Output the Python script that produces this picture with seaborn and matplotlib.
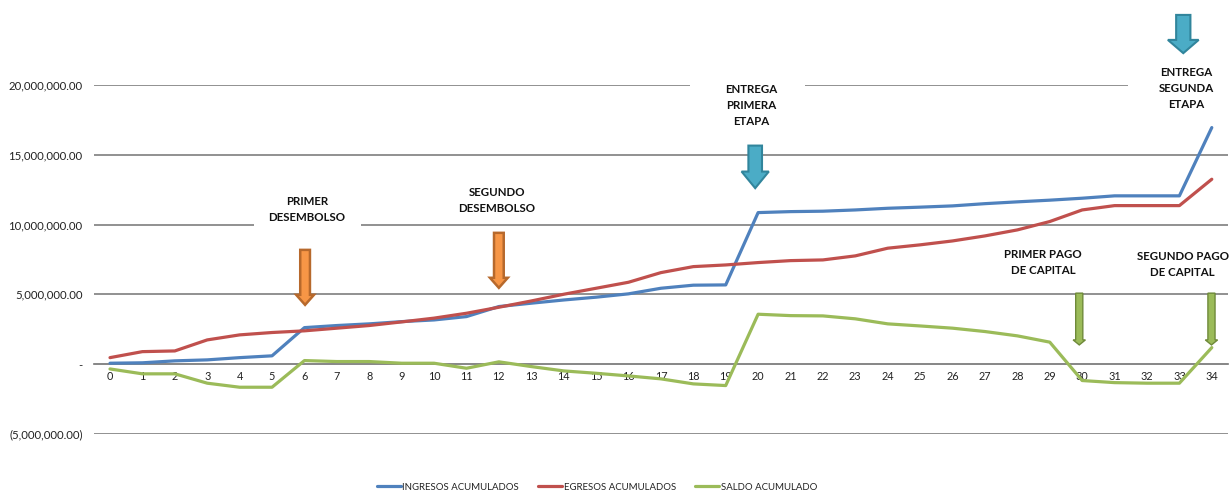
import matplotlib
matplotlib.use("Agg")
import matplotlib.pyplot as plt
from matplotlib.patches import FancyArrow, Rectangle
from matplotlib.lines import Line2D
from matplotlib.ticker import FuncFormatter
import numpy as np
import pandas as pd
import seaborn as sns

# Monthly periods
periodos = list(range(35))

ingresos_acumulados = [
    0.07, 0.10, 0.24, 0.31, 0.47, 0.60, 2.62, 2.77, 2.89, 3.05,
    3.17, 3.41, 4.13, 4.37, 4.60, 4.80, 5.04, 5.44, 5.66, 5.68,
    10.86, 10.93, 10.96, 11.05, 11.17, 11.25, 11.34, 11.50, 11.63, 11.75,
    11.89, 12.06, 12.06, 12.06, 16.95,
]
egresos_acumulados = [
    0.47, 0.90, 0.95, 1.74, 2.10, 2.27, 2.39, 2.58, 2.77, 3.03,
    3.30, 3.65, 4.08, 4.53, 5.01, 5.44, 5.87, 6.56, 6.99, 7.11,
    7.28, 7.42, 7.47, 7.76, 8.31, 8.55, 8.83, 9.19, 9.62, 10.22,
    11.05, 11.36, 11.36, 11.36, 13.25,
]
saldo_acumulado = [
    -0.34, -0.69, -0.69, -1.36, -1.65, -1.65, 0.26, 0.19, 0.19, 0.07,
    0.07, -0.29, 0.17, -0.17, -0.48, -0.65, -0.84, -1.05, -1.41, -1.53,
    3.58, 3.48, 3.46, 3.25, 2.89, 2.74, 2.58, 2.34, 2.03, 1.58,
    -1.17, -1.32, -1.36, -1.36, 1.19,
]

series_nombres = ["INGRESOS ACUMULADOS", "EGRESOS ACUMULADOS", "SALDO ACUMULADO"]
series_colores = ["#4F81BD", "#C0504D", "#9BBB59"]

y_ticks = [-5_000_000, 0, 5_000_000, 10_000_000, 15_000_000, 20_000_000]

df = pd.DataFrame({
    "periodo": periodos * 3,
    "valor": np.array(ingresos_acumulados + egresos_acumulados + saldo_acumulado) * 1e6,
    "serie": sum([[n] * len(periodos) for n in series_nombres], []),
})

sns.set_theme(style="white")
plt.rcParams["font.family"] = ["Lato", "DejaVu Sans"]

fig = plt.figure(figsize=(12.31, 4.94), dpi=100)
W, H = 1231, 494
ax = fig.add_axes([93.8 / W, 1 - 434 / H, (1228 - 93.8) / W, (434 - 85) / H])

sns.lineplot(
    data=df, x="periodo", y="valor", hue="serie",
    palette=dict(zip(series_nombres, series_colores)),
    linewidth=2.3, ax=ax, legend=False, zorder=3,
)

ax.set_xlim(-0.5, 34.5)
ax.set_ylim(-5_000_000, 20_000_000)
ax.set_xticks(periodos)
ax.set_xticklabels([str(p) for p in periodos])
ax.set_yticks(y_ticks)


def formato_contable(v, _pos):
    if abs(v) < 1e-6:
        return "-"
    if v < 0:
        return f"({abs(v):,.2f})"
    return f"{v:,.2f}"


ax.yaxis.set_major_formatter(FuncFormatter(formato_contable))
ax.set_xlabel("")
ax.set_ylabel("")

ax.grid(axis="y", color="#888888", linewidth=1.3, zorder=0)
ax.grid(axis="x", visible=False)
for s in ["top", "right", "left"]:
    ax.spines[s].set_visible(False)
ax.spines["bottom"].set_position(("data", 0))
ax.spines["bottom"].set_color("#888888")
ax.spines["bottom"].set_linewidth(1.3)
ax.tick_params(axis="x", length=0, pad=5, labelsize=7.8, colors="#222222")
ax.tick_params(axis="y", length=0, pad=8, labelsize=8.2, colors="#222222")
for lbl in ax.get_xticklabels():
    lbl.set_zorder(2)

# White text-box backgrounds that break the gridlines behind the callouts
for x0, x1, yc in [(4.44, 7.74, 10e6), (17.9, 21.44, 20e6), (31.41, 34.6, 20e6)]:
    ax.add_patch(Rectangle((x0, yc - 0.6e6), x1 - x0, 1.2e6, fc="white", ec="none",
                           zorder=4, clip_on=False))

txt_kw = dict(ha="center", va="center", fontsize=8.3, fontweight="bold",
              color="#111111", linespacing=1.55, zorder=5)
ax.text(6.08, 11.07e6, "PRIMER\nDESEMBOLSO", **txt_kw)
ax.text(11.94, 11.75e6, "SEGUNDO\nDESEMBOLSO", **txt_kw)
ax.text(19.8, 18.5e6, "ENTREGA\nPRIMERA\nETAPA", **txt_kw)
ax.text(33.22, 19.75e6, "ENTREGA\nSEGUNDA\nETAPA", **txt_kw)
ax.text(28.79, 7.26e6, "PRIMER PAGO\nDE CAPITAL", **txt_kw)
ax.text(33.1, 7.15e6, "SEGUNDO PAGO\nDE CAPITAL", **txt_kw)


def flecha(x, y_top, y_tip, shaft, head, head_len, fc, ec, lw=1.5):
    a = FancyArrow(x, y_top, 0, y_tip - y_top, width=shaft, head_width=head,
                   head_length=head_len, length_includes_head=True,
                   fc=fc, ec=ec, lw=lw, zorder=6, clip_on=False)
    ax.add_patch(a)


naranja, naranja_borde = "#F79646", "#B7692C"
turquesa, turquesa_borde = "#4BACC6", "#31859C"
verde, verde_borde = "#9BBB59", "#6F8A3A"

flecha(6.02, 8.19e6, 4.25e6, 0.30, 0.55, 0.72e6, naranja, naranja_borde, 1.8)
flecha(12.0, 9.41e6, 5.47e6, 0.30, 0.55, 0.72e6, naranja, naranja_borde, 1.8)
flecha(19.91, 15.66e6, 12.61e6, 0.42, 0.84, 1.19e6, turquesa, turquesa_borde, 1.5)
flecha(33.12, 25.02e6, 22.28e6, 0.44, 0.95, 0.95e6, turquesa, turquesa_borde, 1.5)
flecha(29.91, 5.09e6, 1.38e6, 0.22, 0.38, 0.36e6, verde, verde_borde, 1.0)
flecha(33.99, 5.09e6, 1.38e6, 0.22, 0.38, 0.36e6, verde, verde_borde, 1.0)

handles = [Line2D([0], [0], color=c, linewidth=2.3) for c in series_colores]
fig.legend(handles, series_nombres, loc="center", bbox_to_anchor=(597 / W, 1 - 487 / H),
           ncol=3, frameon=False, fontsize=6.9, handlelength=2.5,
           handletextpad=0.15, columnspacing=2.0, labelcolor="#222222")

fig.savefig("out.png", dpi=100)
